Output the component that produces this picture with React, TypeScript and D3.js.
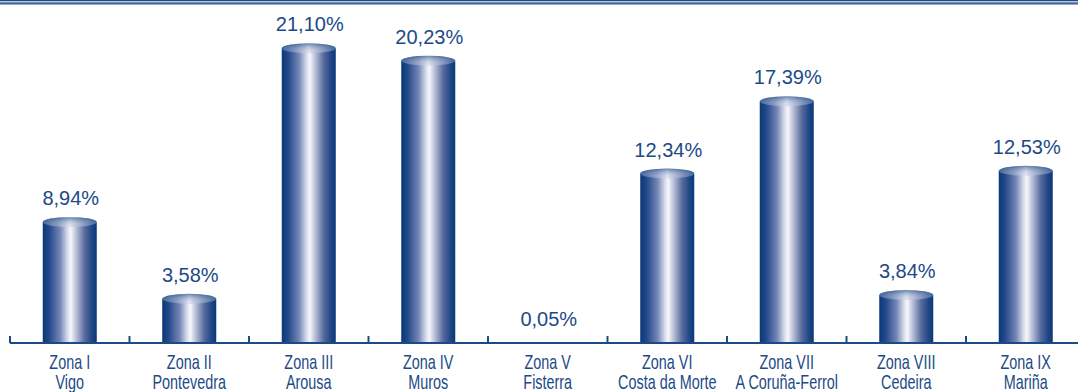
import React from "react";
import * as d3 from "d3";

const zonas = ["Zona I", "Zona II", "Zona III", "Zona IV", "Zona V", "Zona VI", "Zona VII", "Zona VIII", "Zona IX"];
const places = ["Vigo", "Pontevedra", "Arousa", "Muros", "Fisterra", "Costa da Morte", "A Coruña-Ferrol", "Cedeira", "Mariña"];
const values = [8.94, 3.58, 21.1, 20.23, 0.05, 12.34, 17.39, 3.84, 12.53];
const labels = ["8,94%", "3,58%", "21,10%", "20,23%", "0,05%", "12,34%", "17,39%", "3,84%", "12,53%"];

const W = 1078;
const H = 392;
const AXIS_Y = 343;
const BLUE = "#1c4a86";

export default function App() {
  const x = d3.scaleBand<string>().domain(zonas).range([10, 10 + 9 * 119.5]).padding(0);
  const y = d3.scaleLinear().domain([0, 24]).range([350, 350 - 24 * 14.3]);
  const bw = x.bandwidth() * 0.452;
  const rx = bw / 2;
  const ry = 5;

  return (
    <div style={{ position: "absolute", left: 0, top: 0 }}>
      <svg width={W} height={H} style={{ display: "block" }}>
        <defs>
          <linearGradient id="body" x1="0" x2="1" y1="0" y2="0">
            <stop offset="0%" stopColor="#0b3877" />
            <stop offset="12%" stopColor="#23498a" />
            <stop offset="32%" stopColor="#7486b6" />
            <stop offset="46%" stopColor="#d9ddec" />
            <stop offset="52%" stopColor="#f7f7fc" />
            <stop offset="60%" stopColor="#c4c9df" />
            <stop offset="78%" stopColor="#56699d" />
            <stop offset="92%" stopColor="#1d4584" />
            <stop offset="100%" stopColor="#0b3877" />
          </linearGradient>
          <linearGradient id="topg" x1="0" x2="1" y1="0" y2="0">
            <stop offset="0%" stopColor="#2a5290" />
            <stop offset="30%" stopColor="#8d9cc4" />
            <stop offset="50%" stopColor="#dfe3f0" />
            <stop offset="70%" stopColor="#9aa7ca" />
            <stop offset="100%" stopColor="#2a5290" />
          </linearGradient>
          <linearGradient id="topv" x1="0" x2="0" y1="0" y2="1">
            <stop offset="0%" stopColor="#0b3877" stopOpacity={0.55} />
            <stop offset="100%" stopColor="#ffffff" stopOpacity={0} />
          </linearGradient>
          <clipPath id="plotclip">
            <rect x={0} y={0} width={W} height={AXIS_Y} />
          </clipPath>
        </defs>

        {/* top border */}
        <rect x={0} y={0} width={W} height={1.3} fill="#1f4a86" />
        <rect x={0} y={2.4} width={W} height={1.5} fill="#1f4a86" />
        <rect x={0} y={3.9} width={W} height={1} fill="#8fa3c8" />

        <g clipPath="url(#plotclip)">
          {values.map((v, i) => {
            const cx = (x(zonas[i]) as number) + x.bandwidth() / 2;
            const yt = y(v);
            return (
              <g key={zonas[i]}>
                <rect x={cx - rx} y={yt} width={bw} height={Math.max(0, 360 - yt)} fill="url(#body)" />
                <ellipse cx={cx} cy={yt} rx={rx} ry={ry} fill="url(#topg)" />
                <ellipse cx={cx} cy={yt} rx={rx} ry={ry} fill="url(#topv)" />
              </g>
            );
          })}
        </g>

        {/* axis */}
        <line x1={10} x2={W} y1={AXIS_Y} y2={AXIS_Y} stroke={BLUE} strokeWidth={2.2} />
        {d3.range(10).map((k) => {
          const tx = 10 + k * x.bandwidth();
          return <line key={k} x1={tx} x2={tx} y1={AXIS_Y - 7} y2={AXIS_Y} stroke={BLUE} strokeWidth={2} />;
        })}

        {/* value labels */}
        {values.map((v, i) => {
          const cx = (x(zonas[i]) as number) + x.bandwidth() / 2;
          return (
            <text
              key={"v" + i}
              x={cx + 1}
              y={Math.min(y(v), AXIS_Y) - 17}
              textAnchor="middle"
              fontFamily="'Liberation Sans', Arial, sans-serif"
              fontSize={20}
              fill={BLUE}
            >
              {labels[i]}
            </text>
          );
        })}

        {/* category labels */}
        {zonas.map((z, i) => {
          const cx = (x(z) as number) + x.bandwidth() / 2;
          return (
            <g key={"c" + i} transform={`translate(${cx},0) scale(0.72,1)`}>
              <text
                x={0}
                y={369}
                textAnchor="middle"
                fontFamily="'Liberation Sans', Arial, sans-serif"
                fontSize={20}
                fill={BLUE}
              >
                {z}
              </text>
              <text
                x={0}
                y={389}
                textAnchor="middle"
                fontFamily="'Liberation Sans', Arial, sans-serif"
                fontSize={20}
                fill={BLUE}
              >
                {places[i]}
              </text>
            </g>
          );
        })}
      </svg>
    </div>
  );
}
